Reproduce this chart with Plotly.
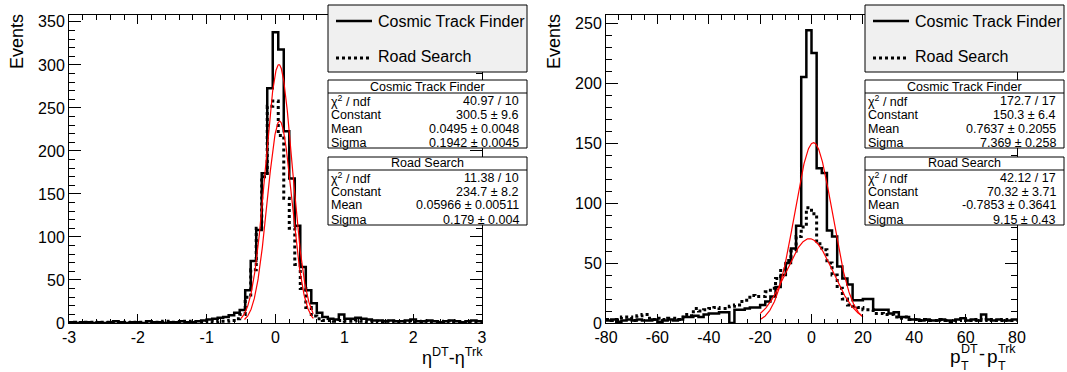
import numpy as np
import plotly.graph_objects as go

W, H = 1067, 372

# ---------------- data: left panel (eta difference) ----------------
eta_lo, eta_bw = -3.0, 0.08          # 75 bins over [-3, 3]
eta_ctf = ([1, 0, 1, 1, 0, 1, 0, 1, 2, 1, 0, 1, 1, 0, 2, 1, 1, 0, 1, 1, 2, 1, 1, 2] +
           [3, 4, 5, 6, 7, 9, 12, 15, 38, 72, 108, 174, 273] +
           [338] +
           [318, 223, 168, 113, 65, 38, 23, 12, 7, 5, 4] +
           [10, 5, 5, 6, 5, 4, 3, 3, 2, 3, 2, 2, 3, 4, 2, 2, 3, 2, 1, 2, 3, 2, 1, 2, 3, 2])
eta_rs = ([0, 1, 0, 1, 1, 0, 1, 1, 0, 1, 1, 0, 1, 1, 1, 0, 1, 2, 1, 1, 1, 2, 1, 1] +
          [1, 2, 1, 2, 2, 3, 5, 10, 30, 62, 110, 170, 252] +
          [258] +
          [218, 145, 110, 68, 40, 18, 8, 5, 3, 3, 2] +
          [3, 2, 2, 3, 2, 1, 2, 1, 2, 2, 1, 1, 2, 1, 1, 2, 1, 1, 1, 2, 1, 1, 0, 1, 1, 1])
eta_tickvals = [-3, -2, -1, 0, 1, 2, 3]
eta_ticktext = ["-3", "-2", "-1", "0", "1", "2", "3"]
eta_fit_ctf = dict(const=300.5, mean=0.0495, sigma=0.1942, lo=-0.5, hi=0.55)
eta_fit_rs = dict(const=234.7, mean=0.05966, sigma=0.179, lo=-0.45, hi=0.55)

# ---------------- data: right panel (pT difference) ----------------
pt_lo, pt_bw = -80.0, 2.0             # 80 bins over [-80, 80]
pt_ctf = ([2, 3, 1, 2, 3, 2, 3, 2, 2, 3, 1, 2, 3, 2, 3] +
          [5, 5, 6, 5, 7, 8, 8, 9, 9, 0, 11, 11, 12, 13, 13] +
          [15, 18, 22, 30, 40, 50, 62, 81, 205, 244] +
          [225, 129, 125, 77, 72, 47, 37, 32, 19, 19] +
          [20, 20, 11, 11, 11, 8, 9, 5, 5, 3, 3, 2, 3, 2, 2] +
          [3, 2, 2, 3, 4, 2, 3, 2, 7, 3, 2, 3, 2, 2, 3])
pt_rs = ([3, 2, 3, 5, 5, 2, 6, 7, 4, 3, 4, 3, 4, 4, 3] +
         [7, 6, 12, 10, 11, 12, 13, 12, 12, 14, 15, 18, 19, 23, 22] +
         [22, 26, 29, 37, 45, 52, 60, 72, 80, 96] +
         [91, 66, 61, 50, 40, 29, 20, 15, 14, 13] +
         [11, 11, 8, 8, 7, 7, 5, 4, 5, 3, 3, 2, 3, 2, 2] +
         [3, 2, 1, 2, 3, 2, 2, 3, 2, 3, 2, 2, 3, 2, 2])
pt_tickvals = [-80, -60, -40, -20, 0, 20, 40, 60, 80]
pt_ticktext = ["-80", "-60", "-40", "-20", "0", "20", "40", "60", "80"]
pt_fit_ctf = dict(const=150.3, mean=0.7637, sigma=7.369, lo=-20, hi=20)
pt_fit_rs = dict(const=70.32, mean=-0.7853, sigma=9.15, lo=-20, hi=20)

# ---------------- stat box texts ----------------
series_names = ["Cosmic Track Finder", "Road Search"]
stat_labels = ["χ<sup>2</sup> / ndf", "Constant", "Mean", "Sigma"]
eta_stats = [["40.97 / 10", "300.5 ± 9.6", "0.0495 ± 0.0048", "0.1942 ± 0.0045"],
             ["11.38 / 10", "234.7 ± 8.2", "0.05966 ± 0.00511", "0.179 ± 0.004"]]
pt_stats = [["172.7 / 17", "150.3 ± 6.4", "0.7637 ± 0.2055", "7.369 ± 0.258"],
            ["42.12 / 17", "70.32 ± 3.71", "-0.7853 ± 0.3641", "9.15 ± 0.43"]]

FONT = "Liberation Sans, Arial, Helvetica, sans-serif"


def px(x):
    return x / W


def py(y):
    return 1 - y / H


def step_xy(lo, bw, vals):
    edges = [lo + bw * i for i in range(len(vals) + 1)]
    return edges, list(vals) + [vals[-1]]


def gauss(p):
    x = np.linspace(p["lo"], p["hi"], 300)
    return x, p["const"] * np.exp(-0.5 * ((x - p["mean"]) / p["sigma"]) ** 2)


fig = go.Figure()

for (lo, bw, ctf, rs, fc, fr, xa, ya) in [
        (eta_lo, eta_bw, eta_ctf, eta_rs, eta_fit_ctf, eta_fit_rs, "x", "y"),
        (pt_lo, pt_bw, pt_ctf, pt_rs, pt_fit_ctf, pt_fit_rs, "x2", "y2")]:
    ex, ey = step_xy(lo, bw, ctf)
    fig.add_trace(go.Scatter(x=ex, y=ey, mode="lines", line_shape="hv",
                             line=dict(color="black", width=2.5),
                             xaxis=xa, yaxis=ya, hoverinfo="skip"))
    ex, ey = step_xy(lo, bw, rs)
    fig.add_trace(go.Scatter(x=ex, y=ey, mode="lines", line_shape="hv",
                             line=dict(color="black", width=3, dash="3px,3px"),
                             xaxis=xa, yaxis=ya, hoverinfo="skip"))
    for p in (fc, fr):
        gx, gy = gauss(p)
        fig.add_trace(go.Scatter(x=gx, y=gy, mode="lines",
                                 line=dict(color="red", width=1.2),
                                 xaxis=xa, yaxis=ya, hoverinfo="skip"))

common = dict(showline=True, linecolor="black", linewidth=1, mirror="allticks",
              ticks="inside", tickcolor="black", tickwidth=1, showgrid=False,
              zeroline=False, automargin=False,
              tickfont=dict(family=FONT, size=16, color="black"))

ydom = [py(323), py(15)]
fig.update_layout(
    width=W, height=H, autosize=False, margin=dict(l=0, r=0, t=0, b=0, pad=0),
    paper_bgcolor="white", plot_bgcolor="white", showlegend=False,
    xaxis=dict(domain=[px(69), px(482)], range=[-3, 3], anchor="y",
               tickmode="array", tickvals=eta_tickvals, ticktext=eta_ticktext,
               ticklen=9, minor=dict(dtick=0.2, tick0=0, ticklen=4.5, ticks="inside",
                                     tickcolor="black"), **common),
    yaxis=dict(domain=ydom, range=[0, 358], anchor="x", dtick=50, tick0=0,
               ticklen=12, minor=dict(dtick=10, tick0=0, ticklen=6, ticks="inside",
                                      tickcolor="black"), **common),
    xaxis2=dict(domain=[px(606), px(1017)], range=[-80, 80], anchor="y2",
                tickmode="array", tickvals=pt_tickvals, ticktext=pt_ticktext,
                ticklen=9, minor=dict(dtick=5, tick0=0, ticklen=4.5, ticks="inside",
                                      tickcolor="black"), **common),
    yaxis2=dict(domain=ydom, range=[0, 256.7], anchor="x2", dtick=50, tick0=0,
                ticklen=12, minor=dict(dtick=10, tick0=0, ticklen=6, ticks="inside",
                                       tickcolor="black"), **common),
)

shapes = []
annots = []


def rect(x0, y0, x1, y1, fill):
    shapes.append(dict(type="rect", xref="paper", yref="paper", layer="above",
                       x0=px(x0), x1=px(x1), y0=py(y1), y1=py(y0),
                       fillcolor=fill, line=dict(color="black", width=1)))


def hline(x0, x1, y, width=1, dash="solid"):
    shapes.append(dict(type="line", xref="paper", yref="paper", layer="above",
                       x0=px(x0), x1=px(x1), y0=py(y), y1=py(y),
                       line=dict(color="black", width=width, dash=dash)))


def text(x, y, s, size, xanchor="left", angle=0, yanchor="middle"):
    annots.append(dict(x=px(x), y=py(y), xref="paper", yref="paper", text=s,
                       showarrow=False, xanchor=xanchor, yanchor=yanchor,
                       textangle=angle, borderpad=0, borderwidth=0,
                       font=dict(family=FONT, size=size, color="black")))


for bx, stats in [(328, eta_stats), (865, pt_stats)]:
    bx1 = bx + 199
    # legend
    rect(bx, 5, bx1, 72, "#f0f0f0")
    hline(bx + 8, bx + 44, 21, width=2.5)
    hline(bx + 8, bx + 44, 58, width=3, dash="3px,3px")
    text(bx + 50, 22, series_names[0], 16)
    text(bx + 50, 57, series_names[1], 16)
    # stat boxes
    for i, top in enumerate([80, 157]):
        rect(bx, top, bx1, top + 68, "white")
        hline(bx, bx1, top + 13)
        text((bx + bx1) / 2, top + 6.5, series_names[i], 12.5, xanchor="center")
        for j in range(4):
            yy = top + 20.5 + 14 * j
            text(bx + 3, yy, stat_labels[j], 12.5)
            text(bx1 - 8, yy, stats[i][j], 12.5, xanchor="right")

# axis titles
text(17.5, 14, "Events", 18, xanchor="center", angle=-90, yanchor="top")
text(554.5, 14, "Events", 18, xanchor="center", angle=-90, yanchor="top")
text(483, 356, "η<sup>DT</sup>-η<sup>Trk</sup>", 18, xanchor="right")
# p_T^DT - p_T^Trk assembled from pieces so sub/superscripts stack
text(950, 356, "p", 19)
text(961, 349, "DT", 12.5)
text(961, 366, "T", 12.5)
text(978.5, 354, "-", 18)
text(987, 356, "p", 19)
text(998, 349, "Trk", 12.5)
text(998, 366, "T", 12.5)

fig.update_layout(shapes=shapes, annotations=annots)
fig.write_html("out.html")
